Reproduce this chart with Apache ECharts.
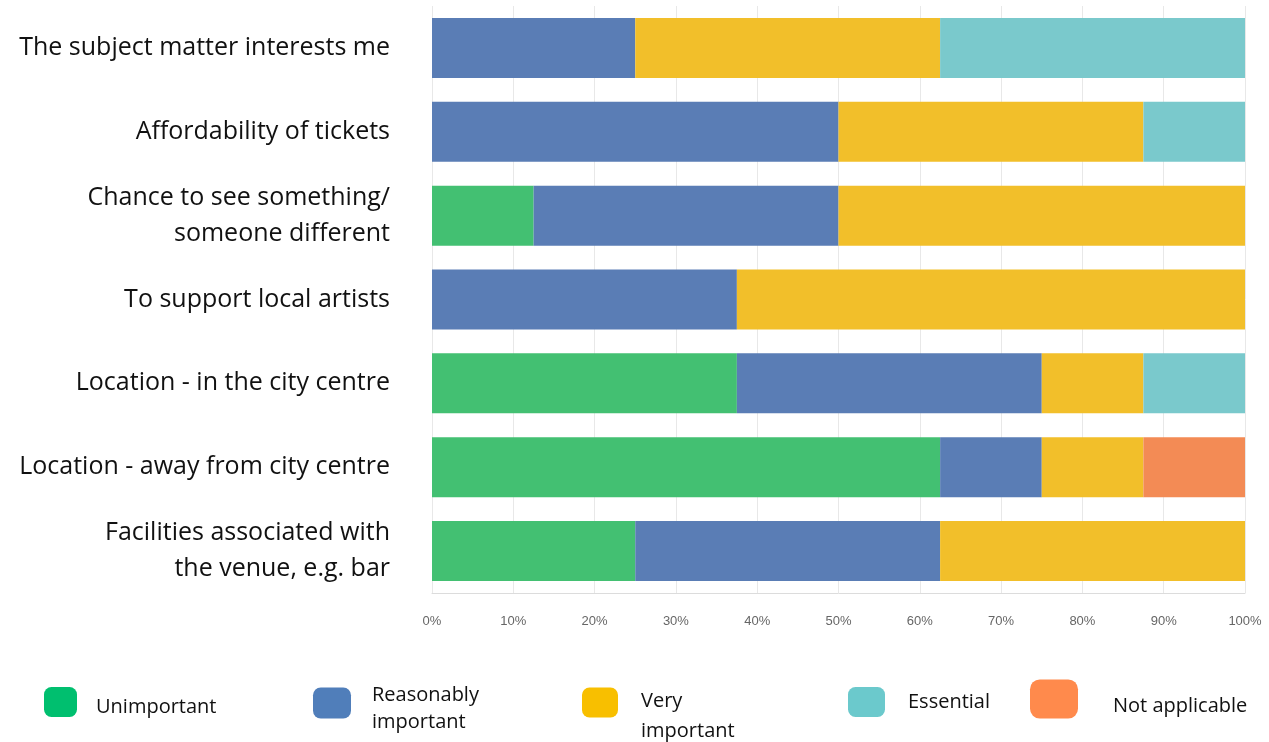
<!DOCTYPE html>
<html>
<head>
<meta charset="utf-8">
<script src="https://cdn.jsdelivr.net/npm/echarts@6/dist/echarts.min.js"></script>
<style>
  html, body { margin: 0; padding: 0; background: #fff; }
  #chart { width: 1269px; height: 742px; }
</style>
</head>
<body>
<div id="chart"></div>
<script>
// categories, top to bottom
const categories = [
  'The subject matter interests me',
  'Affordability of tickets',
  'Chance to see something/\nsomeone different',
  'To support local artists',
  'Location - in the city centre',
  'Location - away from city centre',
  'Facilities associated with\nthe venue, e.g. bar'
]
// percent of respondents per answer
const unimportant = [0, 0, 12.5, 0, 37.5, 62.5, 25]
const reasonably = [25, 50, 37.5, 37.5, 37.5, 12.5, 37.5]
const veryImportant = [37.5, 37.5, 50, 62.5, 12.5, 12.5, 37.5]
const essential = [37.5, 12.5, 0, 0, 12.5, 0, 0]
const notApplicable = [0, 0, 0, 0, 0, 12.5, 0]

const seriesNames = ['Unimportant', 'Reasonably important', 'Very important', 'Essential', 'Not applicable']
const seriesData = [unimportant, reasonably, veryImportant, essential, notApplicable]
const colors = ['#43C072', '#5A7DB5', '#F2BF2A', '#7AC9CC', '#F38B55']
const legendLabels = [['Unimportant'], ['Reasonably', 'important'], ['Very', 'important'], ['Essential'], ['Not applicable']]

// hand placed legend boxes (the original legend is laid out loosely)
const legendColors = ['#00BF6F', '#507EBA', '#F8BF00', '#6BC9CC', '#FF8A4C']
const legendLeft = [44, 313, 582, 848, 1030]
const legendTop = [687, 675.5, 672, 687, 679.5]
const legendIconW = [33, 38, 36, 37, 48]
const legendIconH = [30, 31, 30, 30, 39]
const legendTextLeft = [14, 16, 18, 18, 30]
const legendLineH = [26, 27, 30, 26, 26]
// empty line above the text, pushes the label down next to its box
const legendSpacer = [10, 12, 27, 0, 14]

const chart = echarts.init(document.getElementById('chart'))

const option = {
  animation: false,
  grid: {
    top: 6,
    bottom: 149,
    left: 432,
    right: 24
  },
  xAxis: {
    type: 'value',
    min: 0,
    max: 100,
    interval: 10,
    axisLine: { show: true, lineStyle: { color: '#dcdcdc' } },
    axisTick: { show: false },
    splitLine: { lineStyle: { color: '#e8e8e8' } },
    axisLabel: {
      formatter: '{value}%',
      color: '#666',
      fontFamily: 'Liberation Sans',
      fontSize: 13,
      margin: 22
    }
  },
  yAxis: {
    type: 'category',
    inverse: true,
    data: categories,
    axisLine: { show: false },
    axisTick: { show: false },
    axisLabel: {
      color: '#111',
      fontFamily: 'Open Sans',
      fontSize: 25,
      lineHeight: 36,
      margin: 42,
      align: 'right'
    }
  },
  legend: seriesNames.map((name, i) => ({
    data: [{ name: name, itemStyle: { color: legendColors[i] } }],
    left: legendLeft[i],
    top: legendTop[i],
    padding: 0,
    itemWidth: legendIconW[i],
    itemHeight: legendIconH[i],
    icon: 'roundRect',
    selectedMode: false,
    formatter: () => {
      const lines = legendLabels[i].map(t => '{t|' + t + '}')
      if (legendSpacer[i] > 0) lines.unshift('{s| }')
      return lines.join('\n')
    },
    textStyle: {
      color: '#111',
      fontFamily: 'Open Sans',
      fontSize: 20,
      padding: [0, 0, 0, legendTextLeft[i]],
      rich: {
        s: { fontSize: 1, lineHeight: legendSpacer[i] },
        t: {
          color: '#111',
          fontFamily: 'Open Sans',
          fontSize: 20,
          lineHeight: legendLineH[i]
        }
      }
    }
  })),
  series: seriesNames.map((name, i) => ({
    name: name,
    type: 'bar',
    stack: 'total',
    barWidth: 60,
    itemStyle: { color: colors[i] },
    data: seriesData[i]
  }))
}

chart.setOption(option)
</script>
</body>
</html>
